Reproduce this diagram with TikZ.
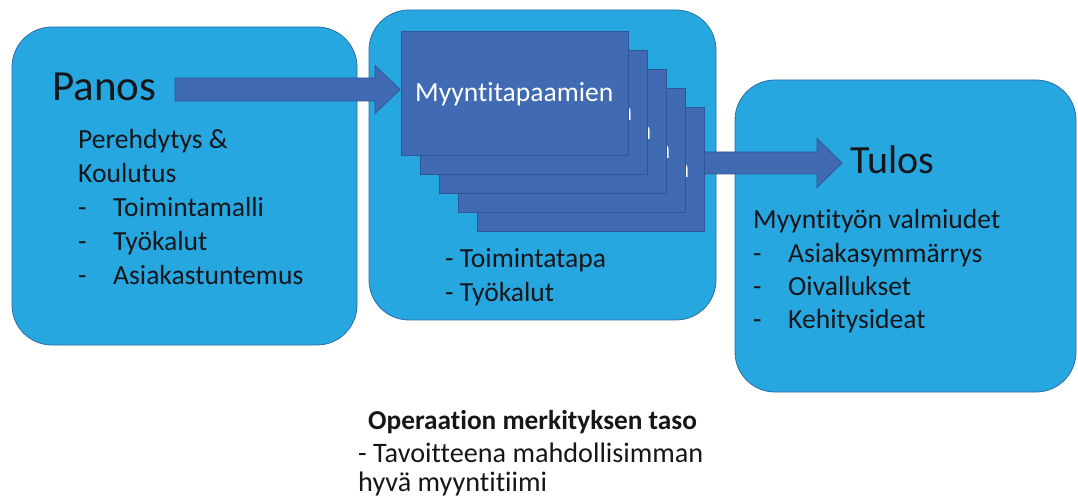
\documentclass[tikz,border=0pt]{standalone}
\usepackage{fontspec}
\setmainfont{Carlito}[Ligatures={NoCommon,NoContextual}]
\usetikzlibrary{calc}
\definecolor{boxfill}{RGB}{39,167,224}
\definecolor{boxline}{RGB}{46,110,168}
\definecolor{cardfill}{RGB}{64,106,178}
\definecolor{cardline}{RGB}{48,86,152}
\definecolor{ink}{RGB}{22,22,26}
\tikzset{
  panel/.style={fill=boxfill, draw=boxline, line width=0.8pt, rounded corners=40pt},
  card/.style={fill=cardfill, draw=cardline, line width=0.8pt},
  cardtext/.style={text=white, font=\fontsize{27.6}{32}\selectfont, inner sep=0pt, anchor=base west},
  fatarrow/.style={fill=cardfill, draw=cardline, line width=0.8pt},
  body/.style={text=ink, font=\fontsize{27.6}{34}\selectfont, inner sep=0pt, anchor=base west, align=left},
}
\newcommand{\itm}[1]{\makebox[35pt][l]{-}#1}
\begin{document}
\begin{tikzpicture}[x=1pt, y=-1pt]
\useasboundingbox (0,0) rectangle (1078,502);

% three rounded panels
\path[panel] (12,27) rectangle (357,345);
\path[panel] (369,10) rectangle (716,320);
\path[panel] (735,80) rectangle (1076,392);

% arrow from the input panel into the card stack
\coordinate (a1s) at (175,89.5);
\coordinate (a1e) at (400,89.5);
\path[fatarrow] ($(a1s)+(0,-11.5)$) -- ($(a1e)+(-25,-11.5)$) -- ($(a1e)+(-25,-24)$) -- (a1e)
  -- ($(a1e)+(-25,24)$) -- ($(a1e)+(-25,11.5)$) -- ($(a1s)+(0,11.5)$) -- cycle;

% arrow from the card stack to the result panel
\coordinate (a2s) at (660,163);
\coordinate (a2e) at (842,163);
\path[fatarrow] ($(a2s)+(0,-11)$) -- ($(a2e)+(-25,-11)$) -- ($(a2e)+(-25,-24.5)$) -- (a2e)
  -- ($(a2e)+(-25,24.5)$) -- ($(a2e)+(-25,11)$) -- ($(a2s)+(0,11)$) -- cycle;

% stack of meeting cards, drawn back to front
\foreach \k in {4,3,2,1,0} {
  \path[card] ({401+19*\k},{31+19*\k}) rectangle ({628+19*\k},{155+19*\k});
  \node[cardtext] (card\k) at ({415+19*\k},{102+19*\k}) {Myyntitapaamien};
}

% input panel (multi-line blocks are placed by their last baseline)
\node[text=ink, font=\fontsize{43}{50}\selectfont, inner sep=0pt, anchor=base west] (panos) at (52,101) {Panos};
\node[body] (panositems) at (78,285) {Perehdytys \&\\Koulutus\\\itm{Toimintamalli}\\\itm{Työkalut}\\\itm{Asiakastuntemus}};

% middle panel
\node[body] (mid) at (445,302) {- Toimintatapa\\- Työkalut};

% result panel
\node[text=ink, font=\fontsize{40}{48}\selectfont, inner sep=0pt, anchor=base west] (tulos) at (850,174) {Tulos};
\node[body, font=\fontsize{27.6}{33.4}\selectfont] (tulositems) at (753,329) {Myyntityön valmiudet\\\itm{Asiakasymmärrys}\\\itm{Oivallukset}\\\itm{Kehitysideat}};

% caption below
\node[text=ink, font=\fontsize{27.3}{32}\selectfont\bfseries, inner sep=0pt, anchor=base west] (cap) at (368,429) {Operaation merkityksen taso};
\node[text=ink, font=\fontsize{28.2}{28.5}\selectfont, inner sep=0pt, anchor=base west, align=left] (capbody) at (358,491) {- Tavoitteena mahdollisimman\\hyvä myyntitiimi};
\end{tikzpicture}
\end{document}
